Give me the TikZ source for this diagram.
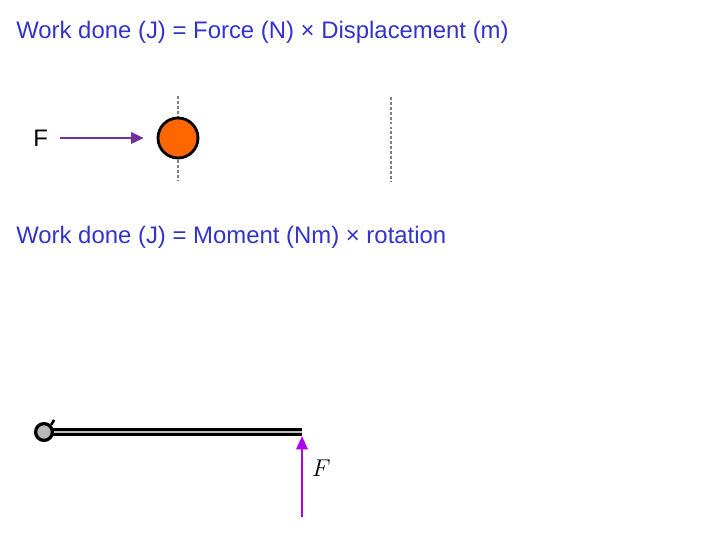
\documentclass[tikz,border=0pt]{standalone}
\usepackage{fontspec}
\setmainfont{Liberation Sans}
\usepackage{tikz}
\usetikzlibrary{arrows.meta}
\definecolor{titleblue}{HTML}{3333CC}
\definecolor{pushpurple}{HTML}{7030A0}
\definecolor{liftviolet}{HTML}{B000F0}
\definecolor{ballorange}{HTML}{FF6600}

\begin{document}
\begin{tikzpicture}[x=0.025cm, y=-0.025cm, line join=round,
    heading/.style={anchor=base west, inner sep=0pt, text=titleblue, font=\fontsize{17}{20}\selectfont},
    guide/.style={dash pattern=on 2pt off 1.5pt, gray, line width=0.9pt}]

    \useasboundingbox (0,0) rectangle (720,540);

    % ==========================================
    % LINEAR WORK
    % ==========================================

    \node[heading] (linear) at (16,38) {Work done (J) = Force (N) × Displacement (m)};

    \coordinate (G1top) at (178,96);
    \coordinate (G1bot) at (178,181);
    \coordinate (G2top) at (391,97);
    \coordinate (G2bot) at (391,182);
    \draw[guide] (G1top) -- (G1bot);
    \draw[guide] (G2top) -- (G2bot);

    \node[anchor=base west, inner sep=0pt, font=\fontsize{17}{20}\selectfont] (Flin) at (33,146) {F};
    \coordinate (Ftail) at (60,138);
    \node[circle, draw, line width=2pt, fill=ballorange, minimum size=1cm, inner sep=0pt] (ball) at (178,138) {};
    \draw[pushpurple, line width=1.8pt, -{Triangle[length=9pt, width=8pt]}] (Ftail) -- ([xshift=-0.32cm]ball.west);

    % ==========================================
    % ROTATIONAL WORK
    % ==========================================

    \node[heading] (rotary) at (16,243) {Work done (J) = Moment (Nm) × rotation};

    \coordinate (tip) at (302,436);
    \coordinate (Fbase) at (302,517);
    \draw[line width=2.3pt, double=gray!50, double distance=0.8pt] (50,432) -- (302,432);
    \node[circle, draw, line width=2.3pt, fill=gray!55, minimum size=0.42cm, inner sep=0pt] (pivot) at (44,432) {};
    \draw[line width=1.8pt] (pivot.north east) -- ++(3,-5);

    \draw[liftviolet, line width=1.8pt, -{Triangle[length=9.5pt, width=8pt]}] (Fbase) -- (tip);
    \node[anchor=west, font=\fontsize{16}{19}\selectfont] (Frot) at (307,468) {$F$};

\end{tikzpicture}
\end{document}
